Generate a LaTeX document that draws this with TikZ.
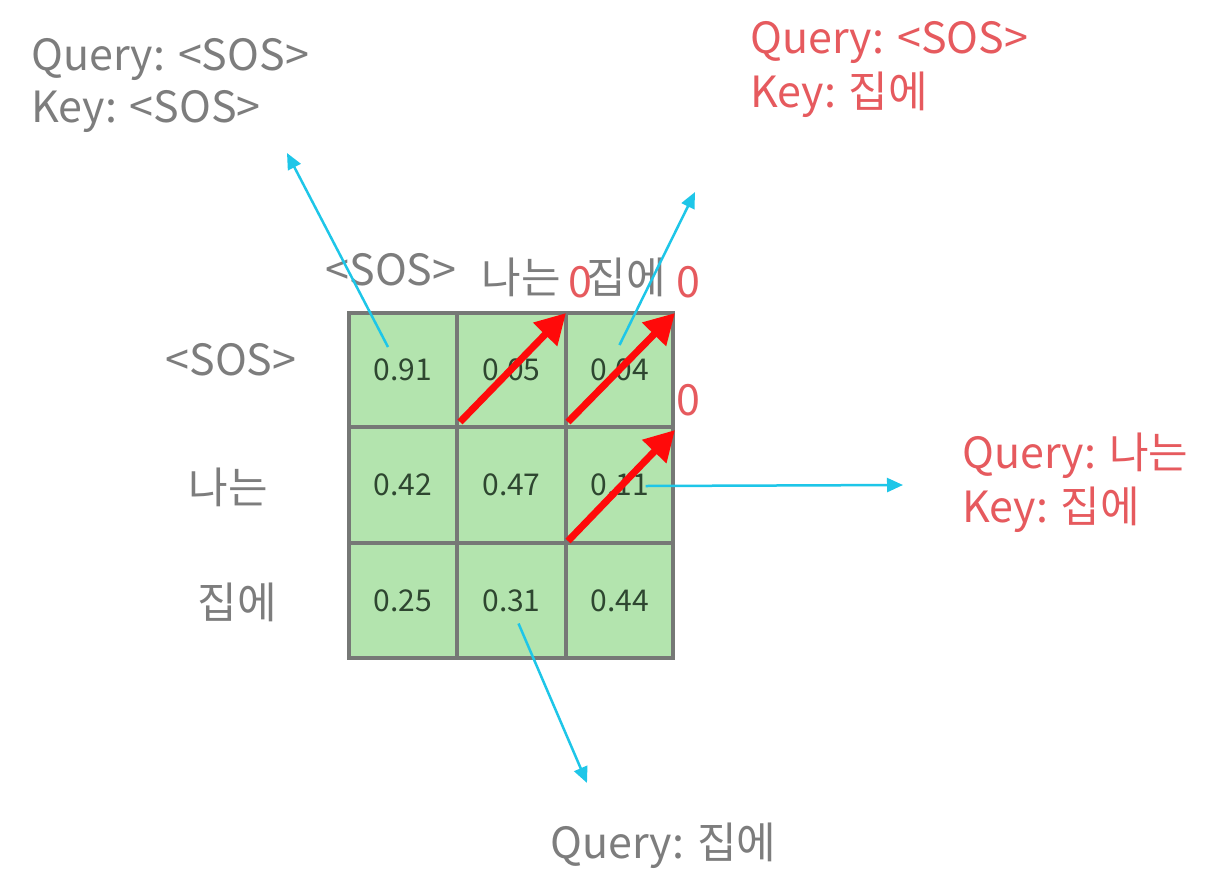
\documentclass[tikz,border=0pt]{standalone}
\usepackage{fontspec}
\setmainfont{Noto Sans CJK KR}
\usetikzlibrary{arrows.meta,calc}
\definecolor{txtgray}{HTML}{7D7D7D}
\definecolor{txtred}{HTML}{E65A5E}
\definecolor{cellfill}{HTML}{B3E4AE}
\definecolor{cellline}{HTML}{767876}
\definecolor{numcol}{HTML}{2E4630}
\definecolor{cyanline}{HTML}{1EC6E8}
\definecolor{redarrow}{HTML}{FF0A0A}
\tikzset{
  cellbox/.style={draw=cellline, fill=cellfill, line width=4pt, inner sep=0pt,
    minimum width=#1, font=\fontsize{30}{36}\selectfont, text=numcol},
  biglabel/.style={inner sep=0pt, font=\fontsize{43}{52}\selectfont, text=txtgray},
  redlabel/.style={biglabel, text=txtred},
  maskarrow/.style={draw=redarrow, line width=7pt, -{Triangle[length=30pt,width=32pt]}},
  pointer/.style={draw=cyanline, line width=2.5pt, -{Triangle[length=16pt,width=14pt]}}
}
\begin{document}
\begin{tikzpicture}[x=1pt,y=-1pt]
\useasboundingbox[fill=white] (0,0) rectangle (1224,895);
% cells
\node[cellbox=108pt, minimum height=114pt] (c11) at (403,370) {0.91};
\node[cellbox=109pt, minimum height=114pt] (c12) at (511.5,370) {0.05};
\node[cellbox=107pt, minimum height=114pt] (c13) at (619.5,370) {0.04};
\node[cellbox=108pt, minimum height=116pt] (c21) at (403,485) {0.42};
\node[cellbox=109pt, minimum height=116pt] (c22) at (511.5,485) {0.47};
\node[cellbox=107pt, minimum height=116pt] (c23) at (619.5,485) {0.11};
\node[cellbox=108pt, minimum height=115pt] (c31) at (403,600.5) {0.25};
\node[cellbox=109pt, minimum height=115pt] (c32) at (511.5,600.5) {0.31};
\node[cellbox=107pt, minimum height=115pt] (c33) at (619.5,600.5) {0.44};
% column headers
\node[biglabel, anchor=base] (h1) at (391,285) {<SOS>};
\node[biglabel, anchor=base] (h2) at (521,293) {나는};
\node[biglabel, anchor=base] (h3) at (626,293) {집에};
% row headers
\node[biglabel, anchor=base] (r1) at (231,375) {<SOS>};
\node[biglabel, anchor=base] (r2) at (228,503) {나는};
\node[biglabel, anchor=base] (r3) at (237,618) {집에};
% red zeros
\node[redlabel, anchor=base] (z1) at (580,297) {0};
\node[redlabel, anchor=base] (z2) at (688,297) {0};
\node[redlabel, anchor=base] (z3) at (688,415) {0};
% masking arrows
\draw[maskarrow] ([shift={(5,-7)}]c12.south west) -- ([shift={(-2,2)}]c12.north east);
\draw[maskarrow] ([shift={(4,-7)}]c13.south west) -- ([shift={(0,2)}]c13.north east);
\draw[maskarrow] ([shift={(4,-4)}]c23.south west) -- ([shift={(0,5)}]c23.north east);
% labels
\node[biglabel, anchor=base west] (tlq) at (31,70) {Query: <SOS>};
\node[biglabel, anchor=base west] (tlk) at (31,122) {Key: <SOS>};
\node[redlabel, anchor=base west] (trq) at (750,53) {Query: <SOS>};
\node[redlabel, anchor=base west] (trk) at (750,107) {Key: 집에};
\node[redlabel, anchor=base west] (rq) at (962,468) {Query: 나는};
\node[redlabel, anchor=base west] (rk) at (962,522) {Key: 집에};
\node[biglabel, anchor=base west] (bq) at (550,858) {Query: 집에};
% pointer ends
\coordinate (e1) at (287,153);
\coordinate (e2) at (695,192);
\coordinate (e3) at (903,485);
\coordinate (e4) at (587,783);
\draw[pointer] ([shift={(-15,-23)}]c11.center) -- (e1);
\draw[pointer] ([shift={(0,-25)}]c13.center) -- (e2);
\draw[pointer] ([shift={(26,1)}]c23.center) -- (e3);
\draw[pointer] ([shift={(7,23)}]c32.center) -- (e4);
\end{tikzpicture}
\end{document}
